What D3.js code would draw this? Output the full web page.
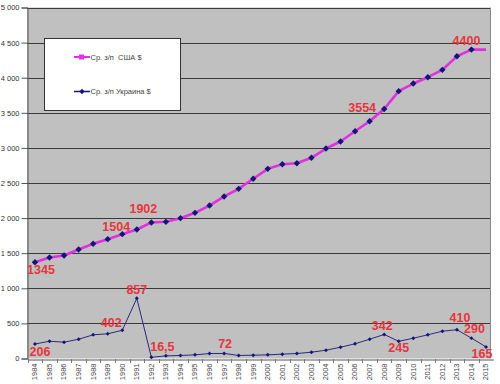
<!DOCTYPE html>
<html lang="ru">
<head>
<meta charset="UTF-8">
<title>Ср. з/п США и Украина</title>
<script src="https://cdn.jsdelivr.net/npm/d3@7"></script>
<style>
  body { margin: 0; background: #fff; }
  text { font-family: "Liberation Sans", Arial, sans-serif; }
</style>
</head>
<body>
<script>
// данные
var years = d3.range(1984, 2016).map(String);
var usa = [1372, 1439, 1467, 1553, 1634, 1700, 1771, 1838, 1937, 1947, 1999, 2075, 2179, 2308, 2417, 2560,
           2702, 2768, 2782, 2859, 2991, 3091, 3238, 3380, 3554, 3808, 3917, 4007, 4112, 4306, 4400, 4400];
var ukraine = [206, 246, 232, 275, 337, 352, 402, 857, 16.5, 38, 43, 52, 71, 72, 43, 47,
               52, 62, 71, 90, 118, 161, 209, 275, 342, 245, 289, 337, 389, 410, 290, 165];
var yTicks = [0, 500, 1000, 1500, 2000, 2500, 3000, 3500, 4000, 4500, 5000];
var seriesNames = ["Ср. з/п  США $", "Ср. з/п Украина $"];
// подписи: [год, текст, серия]
var notes = [
  ["1984", "1345", "usa"], ["1990", "1504", "usa"], ["1992", "1902", "usa"],
  ["2008", "3554", "usa"], ["2014", "4400", "usa"],
  ["1984", "206", "ukr"], ["1990", "402", "ukr"], ["1991", "857", "ukr"], ["1992", "16,5", "ukr"],
  ["1997", "72", "ukr"], ["2008", "342", "ukr"], ["2009", "245", "ukr"], ["2013", "410", "ukr"],
  ["2014", "290", "ukr"], ["2015", "165", "ukr"]
];
// смещения подписей относительно точки [dx, dy]
var noteOffsets = {
  "1345": [6, 12], "1504": [-6, -3], "1902": [-8, -10], "3554": [-22, 3], "4400": [-5, -5],
  "206": [5, 12], "402": [-11, -3], "857": [0, -4], "16,5": [11, -6], "72": [1, -5],
  "342": [-2, -4], "245": [0, 11], "410": [3, -8], "290": [3, -5], "165": [-4, 11]
};

var width = 500, height = 384;
var pLeft = 27, pRight = 490, pTop = 7.5, pBottom = 358.5;

var svg = d3.select("body").append("svg").attr("width", width).attr("height", height);

var x = d3.scaleBand().domain(years).range([27.7, 493.3]);
var y = d3.scaleLinear().domain([0, 5000]).range([pBottom, pTop]);
var cx = function(d) { return x(d) + x.bandwidth() / 2; };

// фон области построения
svg.append("rect").attr("x", pLeft).attr("y", pTop).attr("width", pRight - pLeft).attr("height", pBottom - pTop)
   .attr("fill", "#c0c0c0");

// сетка
svg.selectAll(".grid").data(yTicks.slice(1)).enter().append("line")
   .attr("x1", pLeft).attr("x2", pRight)
   .attr("y1", function(d) { return Math.round(y(d)) + 0.5; })
   .attr("y2", function(d) { return Math.round(y(d)) + 0.5; })
   .attr("stroke", "#3a3a3a").attr("stroke-width", 1);

// правая граница
svg.append("line").attr("x1", pRight + 0.5).attr("x2", pRight + 0.5).attr("y1", pTop).attr("y2", pBottom)
   .attr("stroke", "#8a8a8a");

// ось Y
var yAxis = d3.axisLeft(y).tickValues(yTicks).tickSize(6).tickPadding(2)
  .tickFormat(function(d) { return d3.format(",")(d).replace(/,/g, " "); });
var gy = svg.append("g").attr("transform", "translate(" + (pLeft + 0.5) + ",0)").call(yAxis);
gy.select(".domain").attr("stroke", "#555");
gy.selectAll(".tick line").attr("stroke", "#555");
gy.selectAll(".tick text").attr("font-size", "7.5px").attr("fill", "#333");

// ось X
var xAxis = d3.axisBottom(x).tickSize(0).tickPadding(4);
var gx = svg.append("g").attr("transform", "translate(0," + (Math.round(pBottom) + 0.5) + ")").call(xAxis);
gx.select(".domain").attr("stroke", "#555");
gx.selectAll(".tick text").attr("font-size", "7.5px").attr("fill", "#444")
  .attr("transform", "rotate(-90)").attr("text-anchor", "end").attr("dy", "0.32em")
  .attr("x", -4).attr("y", 0);
svg.selectAll(".xtick").data(years).enter().append("line")
   .attr("x1", function(d) { return Math.round(x(d)) + 0.5; })
   .attr("x2", function(d) { return Math.round(x(d)) + 0.5; })
   .attr("y1", Math.round(pBottom)).attr("y2", Math.round(pBottom) + 4)
   .attr("stroke", "#777");

// линии
var line = d3.line().x(function(d, i) { return cx(years[i]); }).y(function(d) { return y(d); });
svg.append("path").datum(usa).attr("d", line).attr("fill", "none")
   .attr("stroke", "#e030e0").attr("stroke-width", 2.6).attr("stroke-linejoin", "round");

svg.append("path").datum(ukraine).attr("d", line).attr("fill", "none")
   .attr("stroke", "#2a2a80").attr("stroke-width", 1);

svg.selectAll(".mUsa").data(usa.slice(0, usa.length - 1)).enter().append("path")
   .attr("d", d3.symbol().type(d3.symbolDiamond2).size(26))
   .attr("transform", function(d, i) { return "translate(" + cx(years[i]) + "," + y(d) + ")"; })
   .attr("fill", "#14147a");

svg.selectAll(".mUkr").data(ukraine).enter().append("path")
   .attr("d", d3.symbol().type(d3.symbolDiamond2).size(10))
   .attr("transform", function(d, i) { return "translate(" + cx(years[i]) + "," + y(d) + ")"; })
   .attr("fill", "#14147a");

// легенда
var lg = svg.append("g");
lg.append("rect").attr("x", 44.5).attr("y", 38.5).attr("width", 136).attr("height", 72)
  .attr("fill", "#fff").attr("stroke", "#333");
var ly = [57, 91.5];
lg.append("line").attr("x1", 74).attr("x2", 90).attr("y1", ly[0]).attr("y2", ly[0])
  .attr("stroke", "#e030e0").attr("stroke-width", 2);
lg.append("rect").attr("x", 79).attr("y", ly[0] - 2.5).attr("width", 5).attr("height", 5).attr("fill", "#e030e0");
lg.append("line").attr("x1", 74).attr("x2", 90).attr("y1", ly[1]).attr("y2", ly[1])
  .attr("stroke", "#14147a").attr("stroke-width", 1.5);
lg.append("path").attr("d", d3.symbol().type(d3.symbolDiamond2).size(18))
  .attr("transform", "translate(82," + ly[1] + ")").attr("fill", "#14147a");
lg.selectAll(".lt").data(seriesNames).enter().append("text")
  .attr("x", 90.5).attr("y", function(d, i) { return ly[i]; }).attr("dy", "0.35em")
  .attr("font-size", "7.5px").attr("fill", "#444").style("white-space", "pre")
  .text(function(d) { return d; });

// подписи значений
svg.selectAll(".note").data(notes).enter().append("text")
  .attr("x", function(d) { return cx(d[0]) + noteOffsets[d[1]][0]; })
  .attr("y", function(d) {
    var v = (d[2] === "usa" ? usa : ukraine)[years.indexOf(d[0])];
    return y(v) + noteOffsets[d[1]][1];
  })
  .attr("text-anchor", "middle").attr("font-size", "12.5px").attr("font-weight", "bold")
  .attr("fill", "#e8353d")
  .text(function(d) { return d[1]; });
</script>
</body>
</html>
